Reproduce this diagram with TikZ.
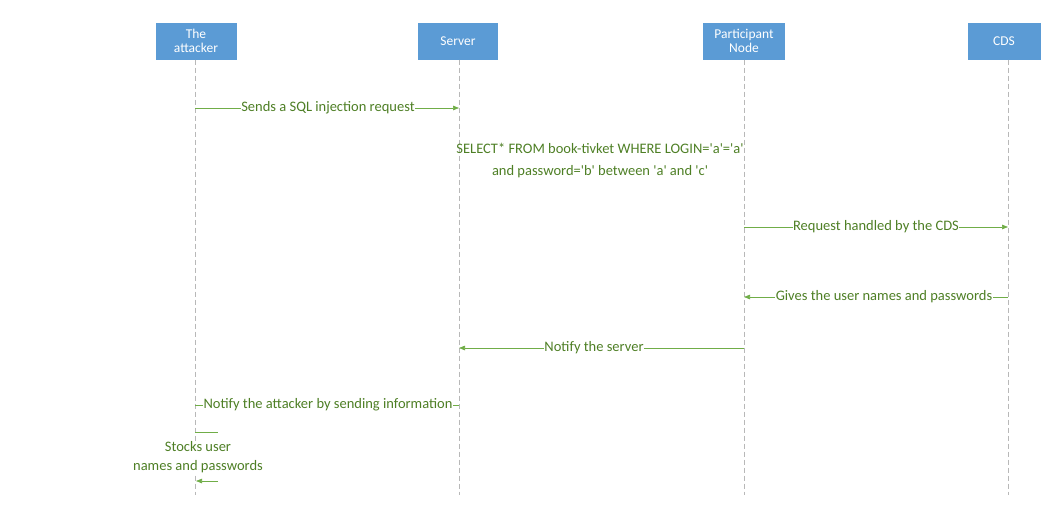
\documentclass[tikz,border=0pt]{standalone}
\usepackage{fontspec}
\setmainfont{Carlito}
\usetikzlibrary{arrows.meta}
\definecolor{boxblue}{HTML}{5B9BD5}
\definecolor{msggreen}{HTML}{70AD47}
\definecolor{txtgreen}{HTML}{4E7F25}
\definecolor{lifegray}{HTML}{B8B8B8}
\tikzset{
  actor/.style={fill=boxblue, text=white, minimum height=37pt, align=center, inner sep=1pt, font=\fontsize{13.5}{14}\selectfont},
  lifeline/.style={draw=lifegray, dash pattern=on 5pt off 3pt, line width=0.6pt},
  msg/.style={draw=msggreen, line width=0.7pt, -{Triangle[length=6pt,width=4.5pt]}},
  msgline/.style={draw=msggreen, line width=0.7pt},
  lbl/.style={fill=white, text=txtgreen, inner sep=0.5pt, font=\fontsize{14.5}{16}\selectfont},
  sqltxt/.style={text=txtgreen, align=center, font=\fontsize{14.5}{22}\selectfont}
}
\begin{document}
\begin{tikzpicture}[x=1pt,y=-1pt]
\useasboundingbox (0,0) rectangle (1041,522);
% actors
\node[actor, minimum width=81pt] (att) at (196,41) {The\\attacker};
\node[actor, minimum width=80pt] (srv) at (458,41) {Server};
\node[actor, minimum width=82pt] (par) at (744,41) {Participant\\Node};
\node[actor, minimum width=73pt] (cds) at (1004,41) {CDS};
% lifeline ends
\coordinate (attE) at (195,495);
\coordinate (srvE) at (459,495);
\coordinate (parE) at (744,495);
\coordinate (cdsE) at (1008,495);
\draw[lifeline] (att.south -| attE) -- (attE);
\draw[lifeline] (srv.south -| srvE) -- (srvE);
\draw[lifeline] (par.south -| parE) -- (parE);
\draw[lifeline] (cds.south -| cdsE) -- (cdsE);
% message 1
\coordinate (m1a) at (195,108);
\coordinate (m1b) at (459,108);
\draw[msg] (m1a) -- (m1b);
\node[lbl] (l1) at (328,108) {Sends a SQL injection request};
% SQL text
\node[sqltxt] (sql) at (600,161) {SELECT* FROM book-tivket WHERE LOGIN=\textquotesingle a\textquotesingle=\textquotesingle a\textquotesingle\\and password=\textquotesingle b\textquotesingle{} between \textquotesingle a\textquotesingle{} and \textquotesingle c\textquotesingle};
% message 2
\coordinate (m2a) at (744,227);
\coordinate (m2b) at (1008,227);
\draw[msg] (m2a) -- (m2b);
\node[lbl] (l2) at (876,227) {Request handled by the CDS};
% message 3
\coordinate (m3a) at (1008,297);
\coordinate (m3b) at (744,297);
\draw[msg] (m3a) -- (m3b);
\node[lbl] (l3) at (884,297) {Gives the user names and passwords};
% message 4
\coordinate (m4a) at (744,348);
\coordinate (m4b) at (459,348);
\draw[msg] (m4a) -- (m4b);
\node[lbl] (l4) at (594,348) {Notify the server};
% message 5
\coordinate (m5a) at (459,405);
\coordinate (m5b) at (195,405);
\draw[msgline] (m5a) -- (m5b);
\node[lbl] (l5) at (328,405) {Notify the attacker by sending information};
% self message
\coordinate (s1) at (195,432);
\coordinate (s2) at (218,432);
\coordinate (s3) at (218,481);
\coordinate (s4) at (196,481);
\draw[msgline] (s1) -- (s2);
\draw[msg] (s3) -- (s4);
\node[sqltxt, font=\fontsize{14.5}{19}\selectfont, fill=white, inner sep=0.5pt] (self) at (198,457) {Stocks user\\names and passwords};
\end{tikzpicture}
\end{document}
